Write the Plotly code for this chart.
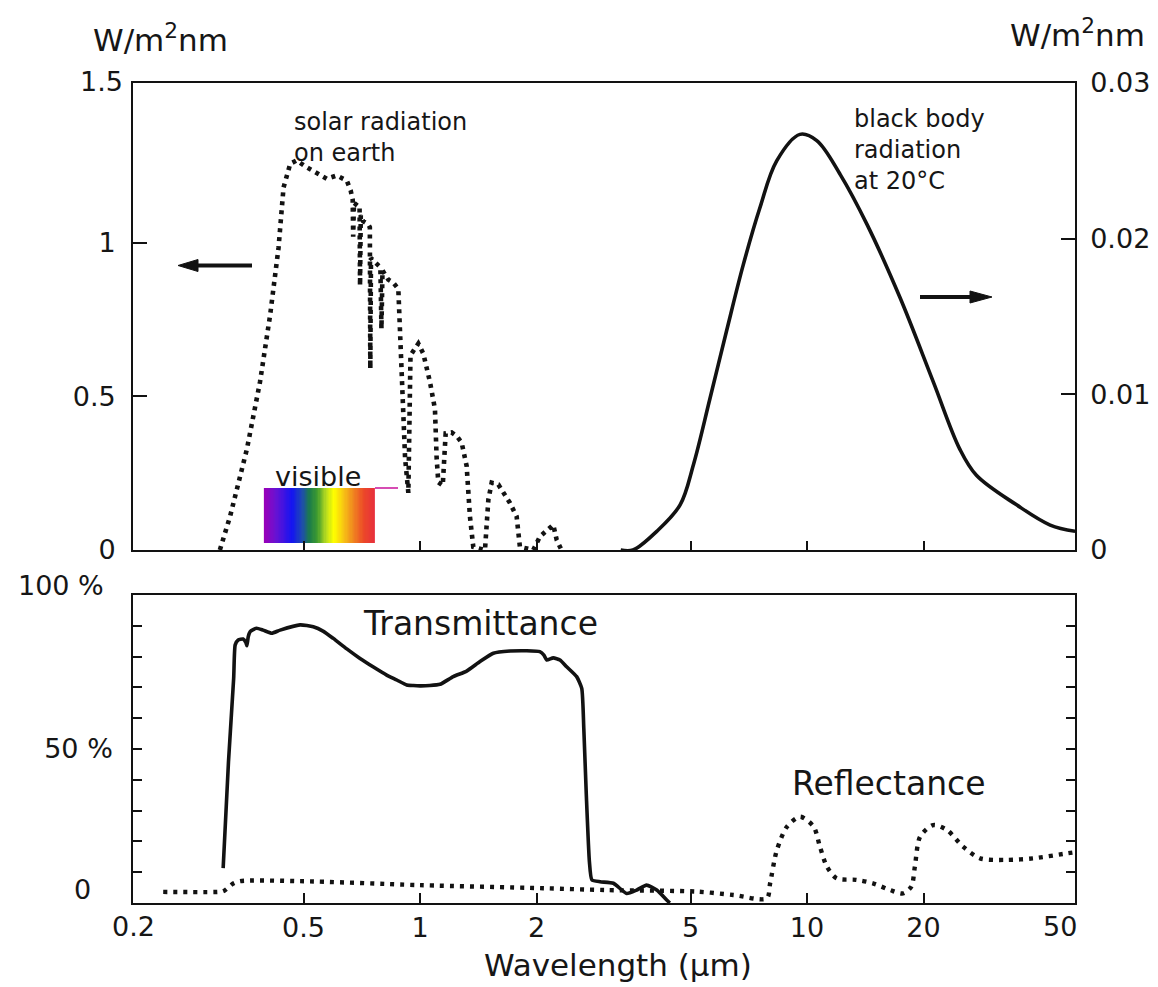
import numpy as np
import plotly.graph_objects as go

# ---------------- data ----------------
# Solar radiation on earth, W/m^2nm (left axis of the upper panel)
SOLAR_WL = [0.304, 0.323, 0.357, 0.386, 0.410, 0.431, 0.444, 0.462, 0.480, 0.509,
            0.574, 0.609, 0.647, 0.662, 0.670, 0.672, 0.675, 0.690, 0.698, 0.700,
            0.703, 0.713, 0.735, 0.742, 0.744, 0.747, 0.760, 0.773, 0.790, 0.795,
            0.800, 0.828, 0.853, 0.879, 0.886, 0.893, 0.905, 0.915, 0.933, 0.940,
            0.945, 0.990, 1.020, 1.061, 1.093, 1.104, 1.115, 1.145, 1.165, 1.207,
            1.245, 1.281, 1.320, 1.346, 1.373, 1.472, 1.502, 1.532, 1.594, 1.708,
            1.777, 1.812, 1.962, 2.042, 2.210, 2.255, 2.321]
SOLAR_VAL = [0.0, 0.109, 0.328, 0.547, 0.765, 0.984, 1.18, 1.257, 1.268, 1.246,
             1.208, 1.219, 1.202, 1.17, 1.14, 1.02, 1.13, 1.12, 1.12, 0.86,
             1.09, 1.07, 1.06, 1.05, 0.59, 0.95, 0.94, 0.93, 0.92, 0.72,
             0.91, 0.88, 0.87, 0.85, 0.75, 0.62, 0.45, 0.30, 0.186, 0.45,
             0.634, 0.672, 0.639, 0.547, 0.459, 0.30, 0.22, 0.21, 0.38, 0.383,
             0.37, 0.35, 0.273, 0.109, 0.01, 0.0, 0.164, 0.219, 0.213, 0.153,
             0.109, 0.01, 0.0, 0.044, 0.082, 0.033, 0.0]

# Black body radiation at 20 C, W/m^2nm (right axis of the upper panel)
BB_WL = [3.30, 3.55, 4.09, 4.70, 5.09, 5.61, 6.20, 6.84, 7.56, 8.35, 9.59,
         10.6, 12.2, 14.3, 17.4, 21.2, 24.8, 27.4, 34.8, 42.5, 49.3]
BB_VAL = [0.0, 0.0, 0.0012, 0.0029, 0.0055, 0.0097, 0.0141, 0.0183, 0.0220, 0.0250, 0.0267,
          0.0263, 0.0241, 0.0209, 0.0162, 0.0108, 0.0065, 0.0048, 0.0029, 0.0016, 0.0012]

# Transmittance, % (lower panel)
TRANS_WL = [0.310, 0.320, 0.330, 0.333, 0.339, 0.349, 0.355, 0.357, 0.360, 0.364,
            0.378, 0.393, 0.414, 0.435, 0.490, 0.530, 0.563, 0.597, 0.647, 0.700,
            0.758, 0.820, 0.871, 0.924, 0.961, 1.000, 1.060, 1.126, 1.219, 1.320,
            1.429, 1.547, 1.708, 1.887, 2.040, 2.090, 2.125, 2.210, 2.300, 2.393,
            2.540, 2.618, 2.650, 2.690, 2.740, 2.780, 2.920, 3.160, 3.420, 3.630,
            3.850, 4.090, 4.340, 4.420]
TRANS_VAL = [11.3, 45.9, 72.9, 83.8, 85.4, 85.7, 84.5, 83.5, 86.5, 88.1,
             89.2, 88.6, 87.6, 88.6, 90.3, 89.7, 88.2, 85.9, 82.5, 79.4,
             76.6, 74.0, 72.4, 70.8, 70.6, 70.5, 70.6, 71.0, 73.5, 75.3,
             78.4, 81.1, 81.8, 81.9, 81.6, 80.5, 78.9, 79.6, 78.9, 76.7,
             73.5, 69.7, 56.7, 35.1, 13.4, 7.5, 6.9, 6.4, 3.1, 4.2,
             5.8, 4.2, 1.0, 0.0]

# Reflectance, % (lower panel)
REFL_WL = [0.217, 0.300, 0.310, 0.330, 0.343, 0.490, 1.00, 2.08, 3.03, 5.19,
           6.45, 7.87, 8.03, 8.36, 8.88, 9.60, 10.4, 10.8, 11.26, 11.93,
           13.4, 14.8, 16.4, 17.7, 18.6, 19.0, 19.6, 21.2, 23.0, 25.3,
           28.0, 32.8, 38.4, 46.9, 49.3]
REFL_VAL = [3.6, 3.6, 3.8, 6.4, 7.1, 7.1, 5.8, 4.8, 4.2, 3.7,
            2.6, 1.5, 6.4, 17.2, 24.8, 28.0, 24.8, 18.3, 11.8, 8.0,
            7.5, 6.4, 4.2, 3.1, 5.3, 11.8, 21.5, 25.3, 23.7, 18.3,
            14.5, 14.0, 14.5, 16.1, 16.5]

VISIBLE_UM = [0.395, 0.765]          # extent of the "visible" colour band
X_TICKS = [0.5, 1, 2, 5, 10, 20]
X_TICK_LABELS = ["0.5", "1", "2", "5", "10", "20"]
X_EDGE_LABELS = ["0.2", "50"]
Y1_TICKS = [0, 0.5, 1]
Y1_TICK_LABELS = ["0", "0.5", "1"]
Y1_TOP_LABEL = "1.5"
Y2_TICKS = [0, 0.01, 0.02, 0.03]
Y2_TICK_LABELS = ["0", "0.01", "0.02", "0.03"]
Y3_MAJOR = [50]
Y3_MAJOR_LABELS = ["50 %"]
Y3_EDGE_LABELS = ["0", "100 %"]
Y3_MINOR_STEP = 10

# ---------------- styling / layout helpers ----------------
W, H = 1158, 987
L, R, T, B = 133, 1075, 83, 903
TOP_BOTTOM_PX = 550
BOT_TOP_PX = 595
FONT = "DejaVu Sans"
INK = "#161616"
LINE = "#121212"


def px(x):
    return (x - L) / (R - L)


def py(y):
    return (B - y) / (B - T)


SPECTRUM = [[0.00, "#9a00b8"], [0.10, "#6a12d2"], [0.25, "#1414f2"],
            [0.34, "#1e4cb0"], [0.41, "#1c7c4a"], [0.48, "#3f9c30"],
            [0.56, "#b8dc20"], [0.63, "#ffff00"], [0.72, "#f8c414"],
            [0.81, "#f08420"], [0.90, "#ec4a28"], [1.00, "#e8303c"]]

fig = go.Figure()

# visible band (gradient) on the upper panel
N = 90
edges = np.geomspace(VISIBLE_UM[0], VISIBLE_UM[1], N + 1)
fig.add_trace(go.Heatmap(x=edges, y=[0.0228, 0.2018], z=[np.linspace(0, 1, N)],
                         colorscale=SPECTRUM, zmin=0, zmax=1, showscale=False,
                         hoverinfo="skip", xaxis="x", yaxis="y"))

fig.add_trace(go.Scatter(x=SOLAR_WL, y=SOLAR_VAL, mode="lines",
                         line=dict(color=LINE, width=4.6, dash="4px,5px"),
                         xaxis="x", yaxis="y", name="solar radiation"))
fig.add_trace(go.Scatter(x=BB_WL, y=BB_VAL, mode="lines",
                         line=dict(color=LINE, width=3.6, shape="spline", smoothing=1.0),
                         xaxis="x", yaxis="y2", name="black body"))
fig.add_trace(go.Scatter(x=TRANS_WL, y=TRANS_VAL, mode="lines",
                         line=dict(color=LINE, width=3.6, shape="spline", smoothing=0.5),
                         xaxis="x2", yaxis="y3", name="Transmittance"))
fig.add_trace(go.Scatter(x=REFL_WL, y=REFL_VAL, mode="lines",
                         line=dict(color=LINE, width=4.4, dash="4px,6px", shape="spline", smoothing=0.8),
                         xaxis="x2", yaxis="y3", name="Reflectance"))

xr = [(L - 420) / 387, (R - 420) / 387]
TICK_SIZE = 27
tickfont = dict(family=FONT, size=TICK_SIZE, color=INK)
axis_common = dict(showgrid=False, zeroline=False, showline=True, linecolor=LINE,
                   linewidth=1.6, tickcolor=LINE, tickwidth=1.6, tickfont=tickfont,
                   automargin=False)

top_dom = [py(TOP_BOTTOM_PX), 1.0]
bot_dom = [0.0, py(BOT_TOP_PX)]

fig.update_layout(
    width=W, height=H, autosize=False,
    margin=dict(l=L, r=W - R, t=T, b=H - B),
    paper_bgcolor="white", plot_bgcolor="white",
    showlegend=False,
    font=dict(family=FONT, color=INK),
    xaxis=dict(axis_common, type="log", range=xr, domain=[0, 1], anchor="y",
               tickvals=X_TICKS, ticks="inside", ticklen=9, showticklabels=False,
               mirror=True),
    yaxis=dict(axis_common, range=[0, 1.52], domain=top_dom, anchor="x",
               tickvals=Y1_TICKS, ticktext=Y1_TICK_LABELS, ticks="inside", ticklen=14,
               ticklabelstandoff=10),
    yaxis2=dict(axis_common, range=[0, 0.03], overlaying="y", side="right", anchor="x",
                tickvals=Y2_TICKS, ticktext=Y2_TICK_LABELS, ticks="inside", ticklen=14,
                ticklabelstandoff=8),
    xaxis2=dict(axis_common, type="log", range=xr, domain=[0, 1], anchor="y3",
                tickvals=X_TICKS, ticktext=X_TICK_LABELS, ticks="inside", ticklen=10,
                mirror=True),
    yaxis3=dict(axis_common, range=[0, 100], domain=bot_dom, anchor="x2",
                tickvals=Y3_MAJOR, ticktext=Y3_MAJOR_LABELS, ticks="inside", ticklen=9,
                mirror="ticks", ticklabelstandoff=13,
                minor=dict(tickmode="linear", tick0=0, dtick=Y3_MINOR_STEP, ticks="inside",
                           ticklen=9, tickwidth=1.6, tickcolor=LINE, showgrid=False)),
)

ann = []


def text(t, x, y, size, xanchor="left", yanchor="middle", align="left"):
    ann.append(dict(text=t, x=px(x), y=py(y), xref="paper", yref="paper",
                    xanchor=xanchor, yanchor=yanchor, showarrow=False, align=align,
                    font=dict(family=FONT, size=size, color=INK)))


text("W/m<sup>2</sup>nm", 160, 38, 31, xanchor="center")
text("W/m<sup>2</sup>nm", 1077, 33, 31, xanchor="center")
text(Y1_TOP_LABEL, 125, 81, TICK_SIZE, xanchor="right")
text(Y3_EDGE_LABELS[1], 106, 585, TICK_SIZE, xanchor="right")
text(Y3_EDGE_LABELS[0], 93, 889, TICK_SIZE, xanchor="right")
text("solar radiation<br>on earth", 292, 106, 24, yanchor="top")
text("black body<br>radiation<br>at 20°C", 852, 103, 24, yanchor="top")
text("visible", 318, 476, 27, xanchor="center")
text("Transmittance", 361, 624, 33)
text("Reflectance", 790, 783, 33)
text(X_EDGE_LABELS[0], L, 926, TICK_SIZE, xanchor="center")
text(X_EDGE_LABELS[1], 1060, 926, TICK_SIZE, xanchor="center")
text("Wavelength (µm)", 618, 965, 31, xanchor="center")
fig.update_layout(annotations=ann)

shapes = []
# arrows (shaft + head) pointing to the axis each curve belongs to
for (x_tail, x_base, x_tip, yy) in [(252, 198, 178, 265.5), (920, 970, 992, 297)]:
    shapes.append(dict(type="line", xref="paper", yref="paper",
                       x0=px(x_tail), x1=px(x_base), y0=py(yy), y1=py(yy),
                       line=dict(color=LINE, width=4)))
    shapes.append(dict(type="path", xref="paper", yref="paper",
                       path=f"M {px(x_tip)} {py(yy)} L {px(x_base)} {py(yy - 6)} "
                            f"L {px(x_base)} {py(yy + 6)} Z",
                       fillcolor=LINE, line=dict(color=LINE, width=1)))
# thin magenta stroke next to the colour band
shapes.append(dict(type="line", xref="paper", yref="paper",
                   x0=px(375), x1=px(398), y0=py(488), y1=py(488),
                   line=dict(color="#c8109a", width=1.5)))
fig.update_layout(shapes=shapes)

fig.write_html("out.html")
